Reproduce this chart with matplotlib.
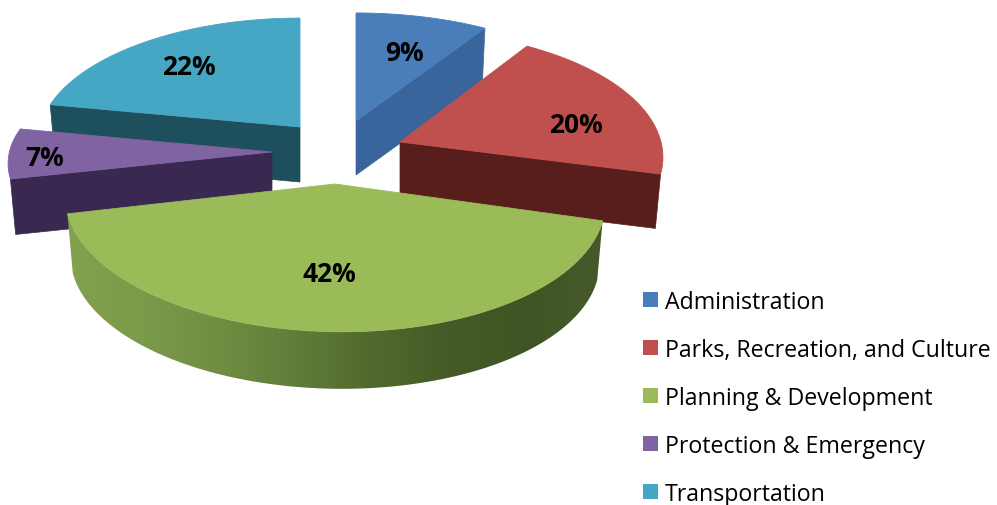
import numpy as np
import matplotlib
matplotlib.use("Agg")
import matplotlib.pyplot as plt
from matplotlib.colors import LinearSegmentedColormap
from matplotlib.patches import Polygon, Rectangle

categories = ["Administration", "Parks, Recreation, and Culture", "Planning & Development",
              "Protection & Emergency", "Transportation"]
shares = [9, 20, 42, 7, 22]

top_colors = ["#4a7ebb", "#c0504d", "#9bbb59", "#8064a2", "#45a7c4"]
wall_colors = ["#3a659c", "#571e1b", None, "#392950", "#1d4f5c"]

# exploded position of each slice: apex x, apex y, x radius, y radius, skew, depth
slice_shape = {
    "Administration": (356, 122, 265, 121, 0.0, 54),
    "Parks, Recreation, and Culture": (400, 143, 261, 125, 0.0, 55),
    "Planning & Development": (335, 185, 268, 130, 0.013, 60),
    "Protection & Emergency": (272, 153, 262, 114, 0.0085, 56),
    "Transportation": (300, 128, 260, 122, 0.0, 55),
}
label_pos = [(404, 53), (576, 125), (329, 275), (45, 158), (189, 67)]

PERSPECTIVE = 0.12
BASE_SCALE = 0.98


def project(theta, shape, lower=False):
    # pie angle (clockwise from the top) to pixel position
    cx, cy, a, b, skew, depth = shape
    w = 1 + PERSPECTIVE * np.cos(theta)
    dx = a * np.sin(theta) / w
    dy = -b * np.cos(theta) / w + skew * a * np.sin(theta) / w
    if lower:
        return cx + dx * BASE_SCALE, cy + dy * BASE_SCALE + depth
    return cx + dx, cy + dy


def draw_cut_wall(ax, theta, shape, color, zorder):
    x0, y0 = project(theta, shape)
    x1, y1 = project(theta, shape, lower=True)
    pts = [(x0, y0), (shape[0], shape[1]), (shape[0], shape[1] + shape[5]), (x1, y1)]
    ax.add_patch(Polygon(pts, closed=True, facecolor=color, edgecolor=color, lw=0.5, zorder=zorder))


def draw_round_wall(ax, start, end, shape, cmap, zorder):
    # horizontal shading clipped to the outline of the outer wall
    steps = np.linspace(start, end, 200)
    xs_top, ys_top = project(steps, shape)
    xs_low, ys_low = project(steps, shape, lower=True)
    pts = np.column_stack([np.r_[xs_top, xs_low[::-1]], np.r_[ys_top, ys_low[::-1]]])
    wall = Polygon(pts, closed=True, facecolor="none", edgecolor="none", transform=ax.transData)
    ax.add_patch(wall)
    shade = np.linspace(0, 1, 256).reshape(1, -1)
    im = ax.imshow(shade, cmap=cmap, aspect="auto", zorder=zorder, interpolation="bilinear",
                   extent=(pts[:, 0].min(), pts[:, 0].max(), pts[:, 1].max(), pts[:, 1].min()))
    im.set_clip_path(wall)


def draw_top(ax, start, end, shape, color, zorder):
    steps = np.linspace(start, end, 120)
    xs, ys = project(steps, shape)
    pts = [(shape[0], shape[1])] + list(zip(xs, ys))
    ax.add_patch(Polygon(pts, closed=True, facecolor=color, edgecolor=color, lw=0.6, zorder=zorder))


def main():
    plt.rcParams["font.family"] = ["Open Sans", "DejaVu Sans"]
    fig = plt.figure(figsize=(9.97, 5.06), dpi=100)
    ax = fig.add_axes([0, 0, 1, 1])

    edges = np.cumsum([0] + shares) / sum(shares) * 2 * np.pi
    green_wall = LinearSegmentedColormap.from_list(
        "green_wall", ["#83a24f", "#7b9a4a", "#708e42", "#617c38", "#51692e", "#455a26", "#415524", "#46592a"])

    # back slices first, the big front slice last
    order = [4, 0, 3, 1, 2]
    for z, i in enumerate(order):
        shape = slice_shape[categories[i]]
        start, end = edges[i], edges[i + 1]
        if i == 0 or i == 1:
            draw_cut_wall(ax, end, shape, wall_colors[i], z * 2 + 1)
        elif i == 3 or i == 4:
            draw_cut_wall(ax, start, shape, wall_colors[i], z * 2 + 1)
        else:
            draw_round_wall(ax, start, end, shape, green_wall, z * 2 + 1)
        draw_top(ax, start, end, shape, top_colors[i], z * 2 + 2)

    for share, (x, y) in zip(shares, label_pos):
        ax.text(x, y, f"{share}%", ha="center", va="center", fontsize=19, fontweight="bold",
                color="black", zorder=20)

    for i, name in enumerate(categories):
        y = 300 + i * 48
        ax.add_patch(Rectangle((643, y - 7.5), 15, 15, facecolor=top_colors[i], edgecolor="none", zorder=20))
        ax.text(665, y + 3, name, ha="left", va="center", fontsize=16.7, color="black", zorder=20)

    ax.set_xlim(0, 997)
    ax.set_ylim(506, 0)
    ax.axis("off")
    fig.savefig("out.png", dpi=100)


if __name__ == "__main__":
    main()
